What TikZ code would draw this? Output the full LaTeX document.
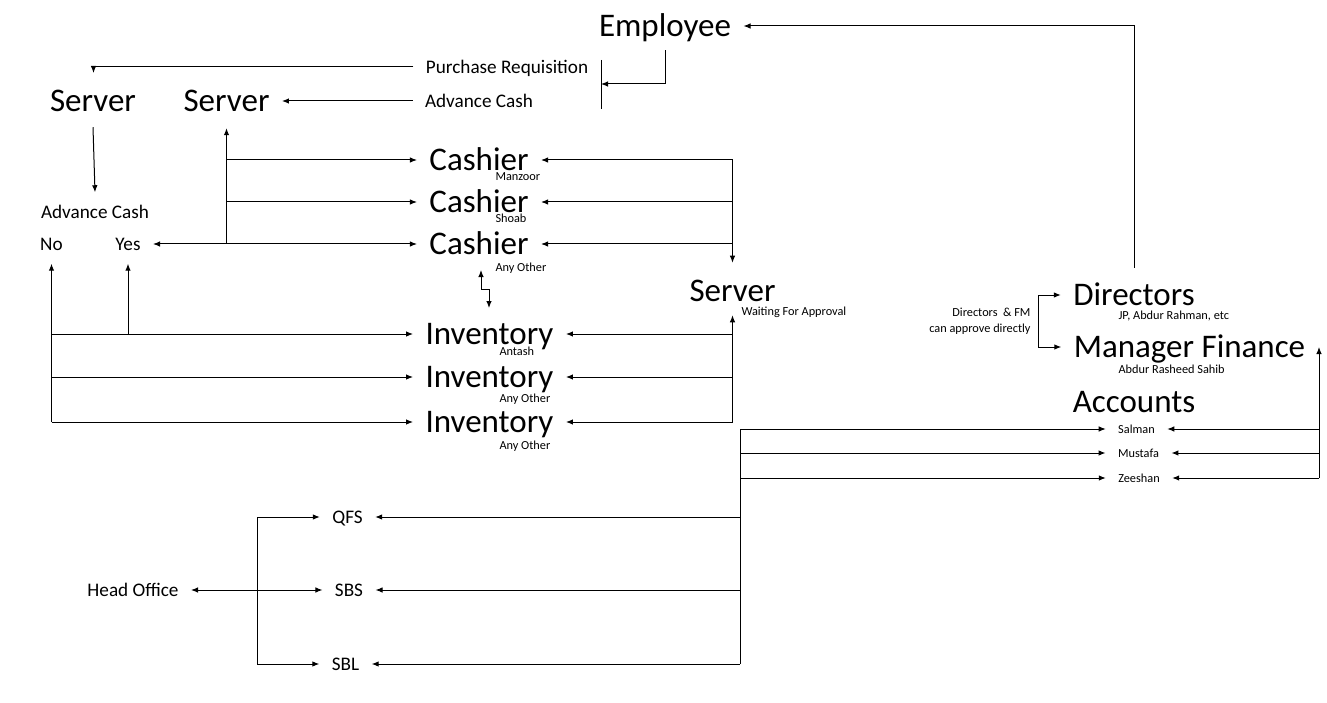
\documentclass[tikz,border=0pt]{standalone}
\usepackage{fontspec}
\setmainfont{Carlito}
\usetikzlibrary{arrows.meta}

\begin{document}
\begin{tikzpicture}[x=1pt, y=-1pt, line width=1pt, >={Latex[length=7pt,width=5.5pt]},
        bigtxt/.style={font=\fontsize{33}{36}\selectfont, inner xsep=12pt, inner ysep=4pt, text height=21.5pt, text depth=0pt},
        midtxt/.style={font=\fontsize{19.2}{23}\selectfont, inner xsep=12pt, inner ysep=4pt, text height=12.5pt, text depth=0pt},
        smalltxt/.style={font=\fontsize{12.3}{15}\selectfont, inner xsep=12pt, inner ysep=3pt, text height=8pt, text depth=0pt},
        subtxt/.style={font=\fontsize{12.3}{15}\selectfont, inner sep=0pt, anchor=west, text height=8pt, text depth=0pt}]
        \useasboundingbox[fill=white] (0,0) rectangle (1327,703);

        % top
        \node[bigtxt] (emp) at (665,26) {Employee};
        \node[midtxt] (req) at (507,67) {Purchase Requisition};
        \node[midtxt] (adv) at (479,101) {Advance Cash};
        \node[bigtxt] (srvA) at (93,101) {Server};
        \node[bigtxt] (srvB) at (226.5,101) {Server};
        \coordinate (barT) at (601,60);
        \coordinate (barB) at (601,109);
        \coordinate (barM) at (601,84);
        \coordinate (reqEnd) at (93.5,73);

        % advance cash answer
        \node[midtxt] (advq) at (95,212) {Advance Cash};
        \node[midtxt] (no) at (51.5,244) {No};
        \node[midtxt] (yes) at (128,244) {Yes};

        % cashiers
        \node[bigtxt] (cashA) at (479,160) {Cashier};
        \node[bigtxt] (cashB) at (479,202) {Cashier};
        \node[bigtxt] (cashC) at (479,244) {Cashier};
        \node[subtxt] at (495,177) {Manzoor};
        \node[subtxt] at (495,219) {Shoab};
        \node[subtxt] at (495,268) {Any Other};
        \node[bigtxt] (srvC) at (732.5,291) {Server};
        \node[subtxt] at (741,311) {Waiting For Approval};

        % inventory
        \node[bigtxt] (invA) at (489.5,334) {Inventory};
        \node[bigtxt] (invB) at (489.5,377) {Inventory};
        \node[bigtxt] (invC) at (489.5,422) {Inventory};
        \node[subtxt] at (499,351) {Antash};
        \node[subtxt] at (499,398) {Any Other};
        \node[subtxt] at (499,445) {Any Other};
        \coordinate (dA) at (481,270);
        \coordinate (dB) at (489,308);

        % approval
        \node[bigtxt] (dir) at (1134,295) {Directors};
        \node[bigtxt] (mgr) at (1189.5,347) {Manager Finance};
        \node[subtxt] at (1118,315) {JP, Abdur Rahman, etc};
        \node[subtxt] at (1118,369) {Abdur Rasheed Sahib};
        \node[font=\fontsize{12.3}{16}\selectfont, align=right, inner sep=0pt, anchor=east] at (1031,321) {Directors~ \& FM\\can approve directly};
        \coordinate (brk) at (1038,320);

        % accounts
        \node[bigtxt] (acc) at (1134,402) {Accounts};
        \node[smalltxt] (sal) at (1136.5,429) {Salman};
        \node[smalltxt] (mus) at (1138.5,453) {Mustafa};
        \node[smalltxt] (zee) at (1139,478) {Zeeshan};
        \coordinate (accR) at (1319,0);
        \coordinate (accL) at (740,0);

        % head office
        \node[midtxt] (qfs) at (347.5,517) {QFS};
        \node[midtxt] (sbs) at (349,590) {SBS};
        \node[midtxt] (sbl) at (345.5,664) {SBL};
        \node[midtxt] (head) at (133,590) {Head Office};
        \coordinate (hoJ) at (257,0);

        % arrows top
        \draw[->] ([yshift=12pt]dir.north) |- (emp.east);
        \draw[->] ([yshift=-9pt]emp.south) |- (barM);
        \draw (barT) -- (barB);
        \draw[->] (req.west) -| (reqEnd);
        \draw[->] (adv.west) -- (srvB.east);
        \draw[->] ([yshift=-11pt]srvA.south) -- ([yshift=9pt]advq.north);

        % arrows cashiers
        \draw[<->] (yes.east) -- (cashC.west);
        \draw[->] (srvB |- cashC) -- ([yshift=-12pt]srvB.south);
        \draw[->] (srvB |- cashA) -- (cashA.west);
        \draw[->] (srvB |- cashB) -- (cashB.west);
        \draw[->] (srvC |- cashA) -- ([yshift=13pt]srvC.north);
        \draw[->] (srvC |- cashA) -- (cashA.east);
        \draw[->] (srvC |- cashB) -- (cashB.east);
        \draw[->] (srvC |- cashC) -- (cashC.east);
        \draw[<->] (dA) -- ++(0,19) -| (dB);

        % arrows inventory
        \draw[->] (srvC |- invC) -- ([yshift=-9pt]srvC.south);
        \draw[->] (srvC |- invA) -- (invA.east);
        \draw[->] (srvC |- invB) -- (invB.east);
        \draw[->] (srvC |- invC) -- (invC.east);
        \draw[->] (no |- invC) -- ([yshift=-9pt]no.south);
        \draw[->] (yes |- invA) -- ([yshift=-9pt]yes.south);
        \draw[->] (no |- invA) -- (invA.west);
        \draw[->] (no |- invB) -- (invB.west);
        \draw[->] (no |- invC) -- (invC.west);

        % arrows approval and accounts
        \draw[<->] (dir.west) -| (brk) |- (mgr.west);
        \draw[->] (accR |- zee) -- (accR |- mgr);
        \draw[->] (accR |- sal) -- (sal.east);
        \draw[->] (accR |- mus) -- (mus.east);
        \draw[->] (accR |- zee) -- (zee.east);
        \draw (accL |- sal) -- (accL |- sbl);
        \draw[->] (accL |- sal) -- (sal.west);
        \draw[->] (accL |- mus) -- (mus.west);
        \draw[->] (accL |- zee) -- (zee.west);

        % arrows head office
        \draw[->] (accL |- qfs) -- (qfs.east);
        \draw[->] (accL |- sbs) -- (sbs.east);
        \draw[->] (accL |- sbl) -- (sbl.east);
        \draw (hoJ |- qfs) -- (hoJ |- sbl);
        \draw[->] (hoJ |- head) -- (head.east);
        \draw[->] (hoJ |- qfs) -- (qfs.west);
        \draw[->] (hoJ |- sbs) -- (sbs.west);
        \draw[->] (hoJ |- sbl) -- (sbl.west);
    \end{tikzpicture}
\end{document}
